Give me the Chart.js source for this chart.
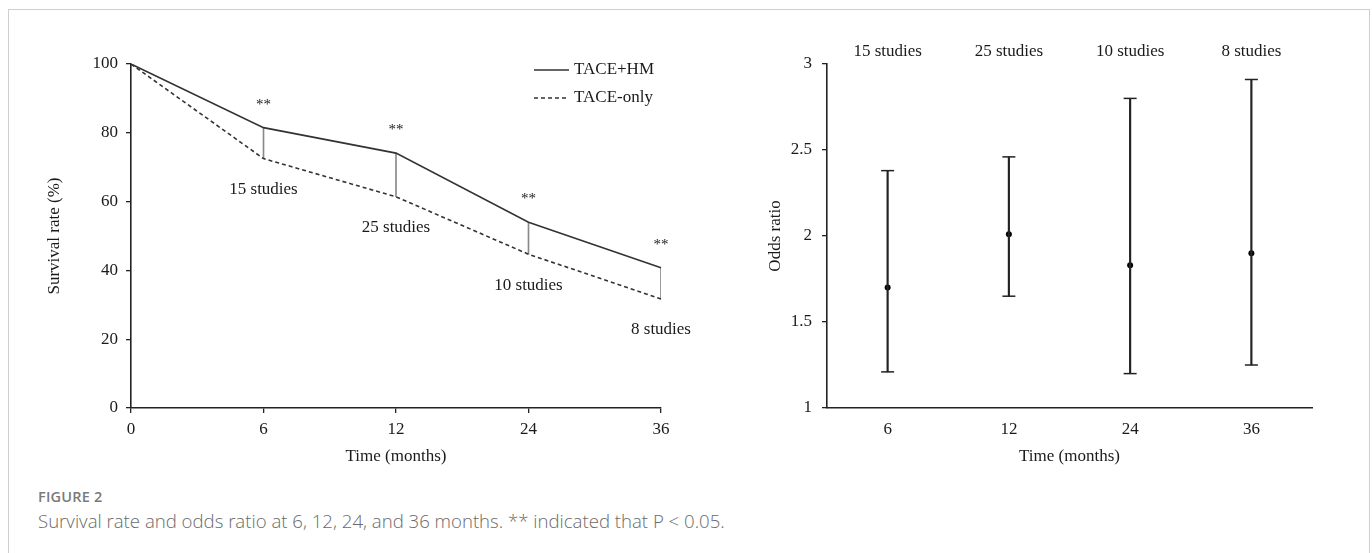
<!DOCTYPE html>
<html>
<head>
<meta charset="utf-8">
<script src="https://cdn.jsdelivr.net/npm/chart.js@4.4.1/dist/chart.umd.min.js"></script>
<style>
  body { margin: 0; background: #fff; width: 1372px; height: 553px; overflow: hidden; position: relative; }
  .frame { position: absolute; left: 8px; top: 9px; width: 1360px; height: 560px; border: 1px solid #cfcfcf; border-bottom: none; }
  #survival { position: absolute; left: 0; top: 0; }
  #odds { position: absolute; left: 700px; top: 0; }
  .figno { position: absolute; left: 38px; top: 487px; font: 600 14.5px "Open Sans", sans-serif; color: #7a7a7a; letter-spacing: 0.2px; }
  .caption { position: absolute; left: 38px; top: 508px; font: 300 18.6px "Open Sans", sans-serif; color: #6a6a6a; }
</style>
</head>
<body>
<div class="frame"></div>
<canvas id="survival" width="700" height="480"></canvas>
<canvas id="odds" width="660" height="480"></canvas>
<div class="figno">FIGURE 2</div>
<div class="caption">Survival rate and odds ratio at 6, 12, 24, and 36 months. ** indicated that P &lt; 0.05.</div>

<script>
// data
const months = ['0', '6', '12', '24', '36'];
const tacePlusHM = [100, 81.5, 74.1, 54.0, 40.8];
const taceOnly = [100, 72.5, 61.4, 44.7, 31.7];
const studyLabels = ['', '15 studies', '25 studies', '10 studies', '8 studies'];
const starLabels = ['', '**', '**', '**', '**'];

const orMonths = ['6', '12', '24', '36'];
const oddsRatio = [1.70, 2.01, 1.83, 1.90];
const orLower = [1.21, 1.65, 1.20, 1.25];
const orUpper = [2.38, 2.46, 2.80, 2.91];
const orStudies = ['15 studies', '25 studies', '10 studies', '8 studies'];

const serif = '"Liberation Serif", "Times New Roman", serif';
const ink = '#1a1a1a';
Chart.defaults.font.family = serif;
Chart.defaults.font.size = 17;
Chart.defaults.color = ink;

/*********************** Chart 1: survival rate ***********************/

// gap between the two curves at each time point
const gapBars = months.map((m, i) => i === 0 ? null : [taceOnly[i], tacePlusHM[i]]);

const survivalNotes = {
  id: 'survivalNotes',
  afterDatasetsDraw(chart) {
    const ctx = chart.ctx;
    const x = chart.scales.x;
    const y = chart.scales.y;
    ctx.save();
    ctx.fillStyle = ink;
    ctx.textAlign = 'center';
    ctx.textBaseline = 'middle';
    months.forEach((m, i) => {
      if (!studyLabels[i]) return;
      const px = x.getPixelForValue(i);
      ctx.font = '15px ' + serif;
      ctx.fillText(starLabels[i], px, y.getPixelForValue(tacePlusHM[i]) - 23);
      ctx.font = '17px ' + serif;
      ctx.fillText(studyLabels[i], px, y.getPixelForValue(taceOnly[i]) + 31);
    });
    // legend
    const lx = chart.chartArea.right - 127;
    [0, 1].forEach(k => {
      const ds = chart.data.datasets[k];
      const ly = chart.chartArea.top + 6 + k * 28;
      ctx.strokeStyle = ds.borderColor;
      ctx.lineWidth = ds.borderWidth;
      ctx.setLineDash(ds.borderDash || []);
      ctx.beginPath();
      ctx.moveTo(lx, ly);
      ctx.lineTo(lx + 35, ly);
      ctx.stroke();
      ctx.setLineDash([]);
      ctx.textAlign = 'left';
      ctx.font = '17px ' + serif;
      ctx.fillText(ds.label, lx + 40, ly);
    });
    ctx.restore();
  }
};

new Chart(document.getElementById('survival'), {
  type: 'line',
  data: {
    labels: months,
    datasets: [
      {
        label: 'TACE+HM',
        data: tacePlusHM,
        borderColor: '#333',
        borderWidth: 1.6,
        pointRadius: 0,
        tension: 0
      },
      {
        label: 'TACE-only',
        data: taceOnly,
        borderColor: '#333',
        borderWidth: 1.6,
        borderDash: [4, 3],
        pointRadius: 0,
        tension: 0
      },
      {
        type: 'bar',
        label: 'gap',
        data: gapBars,
        backgroundColor: '#8a8a8a',
        barThickness: 1
      }
    ]
  },
  options: {
    responsive: false,
    animation: false,
    layout: { padding: { left: 40, top: 64, right: 39, bottom: 12 } },
    plugins: { legend: { display: false }, tooltip: { enabled: false } },
    scales: {
      x: {
        type: 'category',
        offset: false,
        grid: { display: true, offset: false, drawOnChartArea: false, drawTicks: true, tickLength: 5, color: '#222', lineWidth: 1.3 },
        border: { display: true, color: '#222', width: 1.6 },
        ticks: { padding: 6, color: ink },
        title: { display: true, text: 'Time (months)', padding: { top: 0, bottom: 1 }, color: ink },
        afterFit(scale) { scale.height = 60; }
      },
      y: {
        min: 0,
        max: 100,
        ticks: { stepSize: 20, padding: 8, color: ink },
        grid: { display: true, drawOnChartArea: false, drawTicks: true, tickLength: 5, color: '#222', lineWidth: 1.3 },
        border: { display: true, color: '#222', width: 1.6 },
        title: { display: true, text: 'Survival rate (%)', padding: { top: 4, bottom: 4 }, color: ink },
        afterFit(scale) { scale.width = 91; }
      }
    }
  },
  plugins: [survivalNotes]
});

/*********************** Chart 2: odds ratio ***********************/

const oddsNotes = {
  id: 'oddsNotes',
  afterDatasetsDraw(chart) {
    const ctx = chart.ctx;
    const x = chart.scales.x;
    ctx.save();
    ctx.fillStyle = ink;
    ctx.textAlign = 'center';
    ctx.textBaseline = 'middle';
    ctx.font = '17px ' + serif;
    orStudies.forEach((s, i) => {
      ctx.fillText(s, x.getPixelForValue(i), chart.chartArea.top - 12.5);
    });
    ctx.restore();
  }
};

new Chart(document.getElementById('odds'), {
  type: 'bar',
  data: {
    labels: orMonths,
    datasets: [
      {
        label: '95% CI',
        data: orMonths.map((m, i) => [orLower[i], orUpper[i]]),
        backgroundColor: '#222',
        barThickness: 1.5
      },
      {
        type: 'line',
        label: 'upper',
        data: orUpper,
        showLine: false,
        pointStyle: 'line',
        pointRadius: 6.5,
        borderColor: '#222',
        pointBorderWidth: 1.5
      },
      {
        type: 'line',
        label: 'lower',
        data: orLower,
        showLine: false,
        pointStyle: 'line',
        pointRadius: 6.5,
        borderColor: '#222',
        pointBorderWidth: 1.5
      },
      {
        type: 'line',
        label: 'OR',
        data: oddsRatio,
        showLine: false,
        pointStyle: 'circle',
        pointRadius: 3,
        backgroundColor: '#000',
        borderColor: '#000',
        pointBorderWidth: 0
      }
    ]
  },
  options: {
    responsive: false,
    animation: false,
    layout: { padding: { left: 61, top: 64, right: 48, bottom: 12 } },
    plugins: { legend: { display: false }, tooltip: { enabled: false } },
    scales: {
      x: {
        offset: true,
        grid: { display: true, drawOnChartArea: false, drawTicks: false, tickLength: 0 },
        border: { display: true, color: '#222', width: 1.6 },
        ticks: { padding: 11, color: ink },
        title: { display: true, text: 'Time (months)', padding: { top: 0, bottom: 1 }, color: ink },
        afterFit(scale) { scale.height = 60; }
      },
      y: {
        min: 1,
        max: 3,
        ticks: { stepSize: 0.5, padding: 10, color: ink, callback: v => String(v) },
        grid: { display: true, drawOnChartArea: false, drawTicks: true, tickLength: 5, color: '#222', lineWidth: 1.3 },
        border: { display: true, color: '#222', width: 1.6 },
        title: { display: true, text: 'Odds ratio', padding: { top: 4, bottom: 4 }, color: ink },
        afterFit(scale) { scale.width = 66; }
      }
    }
  },
  plugins: [oddsNotes]
});
</script>
</body>
</html>
